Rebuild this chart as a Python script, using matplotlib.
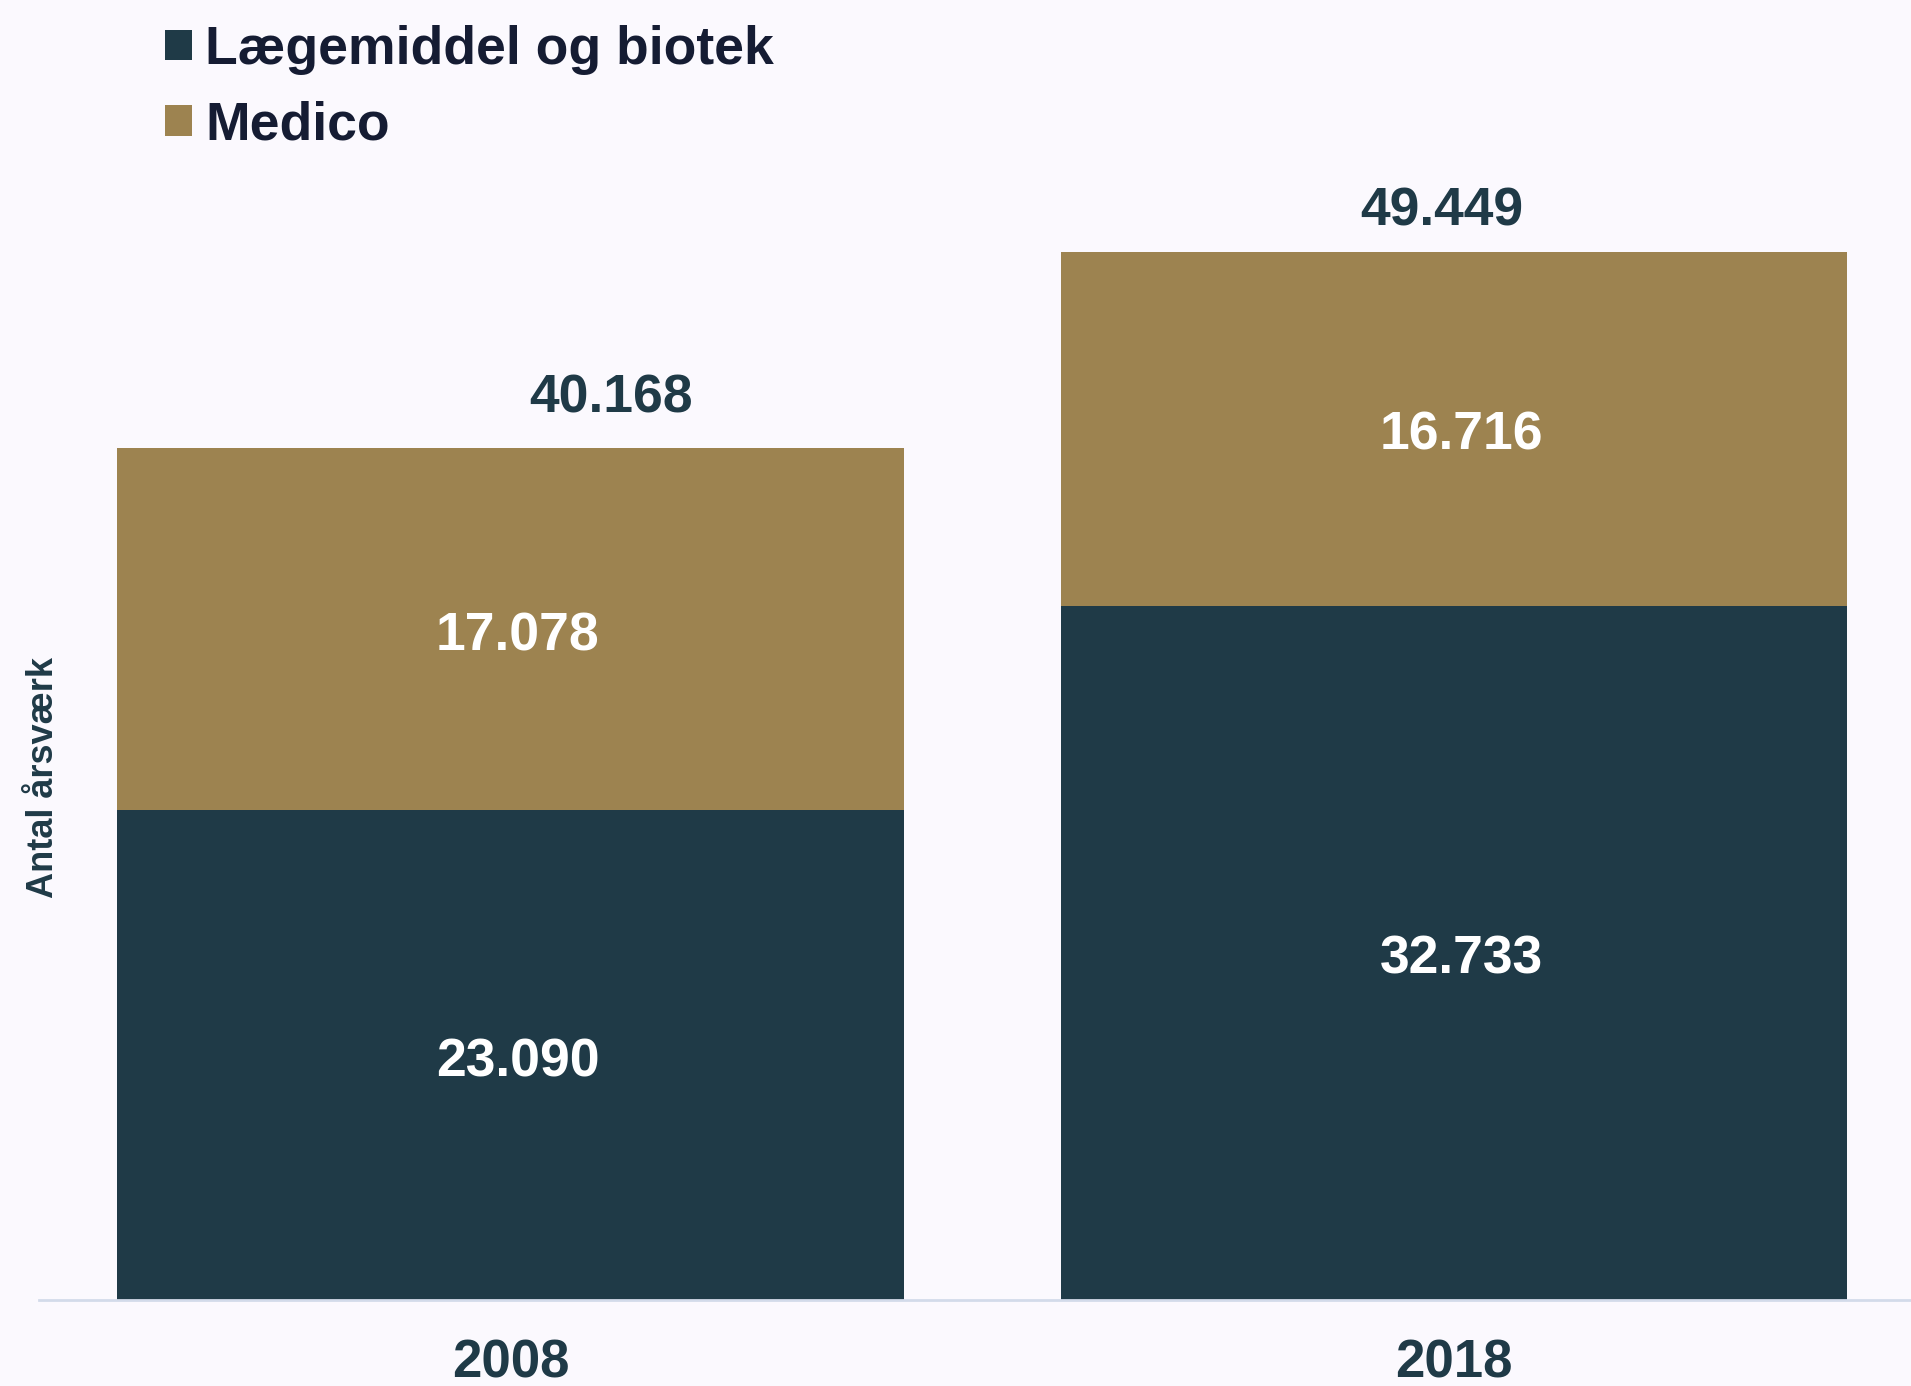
import numpy as np
import matplotlib.pyplot as plt
from matplotlib.patches import Patch

years = ['2008', '2018']
laegemiddel = [23090, 32733]
medico = [17078, 16716]
totals = [40168, 49449]
series_names = ['Lægemiddel og biotek', 'Medico']

c_dark = '#1f3a47'
c_gold = '#9d8350'
bg = '#fbf9fe'

plt.rcParams['font.family'] = ['Liberation Sans', 'DejaVu Sans']
plt.rcParams['font.weight'] = 'bold'

fig = plt.figure(figsize=(19.11, 13.86), dpi=100, facecolor=bg)
ax = fig.add_axes([39/1911, 86/1386, 1880/1911, 1300/1386])
ax.set_facecolor(bg)

x = np.arange(len(years))
w = 0.834
ax.bar(x, laegemiddel, w, color=c_dark, edgecolor='none')
ax.bar(x, medico, w, bottom=laegemiddel, color=c_gold, edgecolor='none')

# values inside bars
for i in range(len(years)):
    ax.annotate(f'{laegemiddel[i]:,}'.replace(',', '.'), (x[i], laegemiddel[i]/2),
                xytext=(5, -5), textcoords='offset points',
                ha='center', va='center', color='white', fontsize=38.5, fontweight='bold')
    ax.annotate(f'{medico[i]:,}'.replace(',', '.'), (x[i], laegemiddel[i] + medico[i]/2),
                xytext=(5, -5), textcoords='offset points',
                ha='center', va='center', color='white', fontsize=38.5, fontweight='bold')

# totals above bars
tot_off = [(72, 36), (-9, 29)]
for i in range(len(years)):
    ax.annotate(f'{totals[i]:,}'.replace(',', '.'), (x[i], totals[i]),
                xytext=tot_off[i], textcoords='offset points',
                ha='center', va='center', color=c_dark, fontsize=38.5, fontweight='bold')

ax.set_xlim(-0.5, 1.493)
ax.set_ylim(0, 61320)
ax.set_xticks(x)
ax.set_xticklabels(years, fontsize=38, fontweight='bold', color=c_dark)
ax.tick_params(axis='x', length=0, pad=28)
ax.set_yticks([])
for s in ['top', 'right', 'left']:
    ax.spines[s].set_visible(False)
ax.spines['bottom'].set_color('#d3dbea')
ax.spines['bottom'].set_linewidth(2)

fig.text(44/1911, 1 - 778/1386, 'Antal årsværk', rotation=90, ha='center', va='center',
         fontsize=26, fontweight='bold', color=c_dark)

handles = [Patch(facecolor=c_dark), Patch(facecolor=c_gold)]
leg = fig.legend(handles, series_names, loc='upper left', bbox_to_anchor=(165/1911, 1 - 25/1386),
                 frameon=False, fontsize=38.5, handlelength=0.5, handleheight=0.5,
                 handletextpad=0.25, labelspacing=0.48, borderaxespad=0, borderpad=0)
for t in leg.get_texts():
    t.set_color('#151c33')
    t.set_fontweight('bold')

fig.savefig('out.png', dpi=100, facecolor=bg)
